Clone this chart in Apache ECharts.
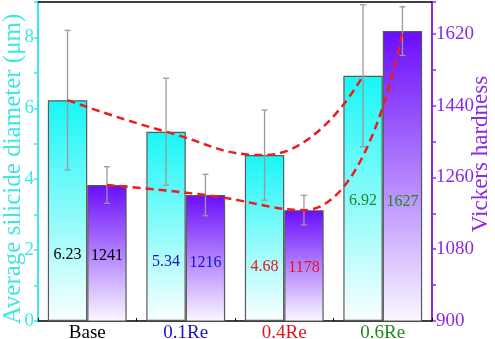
<!DOCTYPE html>
<html>
<head>
<meta charset="utf-8">
<script src="https://cdn.jsdelivr.net/npm/echarts@6/dist/echarts.min.js"></script>
<style>html,body{margin:0;padding:0;background:#fff}#c{width:495px;height:339px}</style>
</head>
<body>
<div id="c"></div>
<script>
// ---- data ----
const categories = ['Base', '0.1Re', '0.4Re', '0.6Re'];
const diameter = [6.23, 5.34, 4.68, 6.92];
const diameterErr = [1.97, 1.51, 1.27, 2.0];
const hardness = [1241, 1216, 1178, 1627];
const hardnessErr = [46, 52, 37, 61];
const leftTickLabels = [0, 2, 4, 6, 8];
const rightTickLabels = [900, 1080, 1260, 1440, 1620];

// ---- styles ----
const catColors = ['#000000', '#1414c8', '#e8141b', '#1f8a1f'];
const labelLift = [58, 51, 46, 112];
const FONT = 'Liberation Serif';
const CYAN = '#3fe6e6';
const PURPLE = '#8a2be2';
const catGap = 0.2;                 // barCategoryGap fraction
const barFrac = (1 - catGap) / 2;   // each bar's share of a category
const barOffset = barFrac / 2;      // bar centre offset from category centre

const chart = echarts.init(document.getElementById('c'), null, {renderer: 'canvas'});

function errItem(side) {
  return function (params, api) {
    const i = api.value(0), v = api.value(1), e = api.value(2);
    const band = api.size([1, 0])[0];
    const dx = side * band * barOffset;
    const t = api.coord([i, v + e]);
    const b = api.coord([i, v - e]);
    const x = t[0] + dx;
    const cap = 3;
    const st = {stroke: '#9a9a9a', lineWidth: 1.3};
    return {
      type: 'group',
      children: [
        {type: 'line', shape: {x1: x, y1: t[1], x2: x, y2: b[1]}, style: st},
        {type: 'line', shape: {x1: x - cap, y1: t[1], x2: x + cap, y2: t[1]}, style: st},
        {type: 'line', shape: {x1: x - cap, y1: b[1], x2: x + cap, y2: b[1]}, style: st}
      ]
    };
  };
}

const rich = {};
categories.forEach((c, i) => { rich['c' + i] = {color: catColors[i], fontFamily: FONT, fontSize: 19}; });

const option = {
  animation: false,
  grid: {left: 38, right: 63, top: 2, bottom: 18, containLabel: false, outerBoundsMode: 'none'},
  xAxis: [
    {
      type: 'category', data: categories, position: 'bottom',
      axisLine: {onZero: false, lineStyle: {color: '#000', width: 1.5}},
      axisTick: {show: true, inside: true, length: 3, lineStyle: {color: '#000'}},
      axisLabel: {
        margin: 3,
        formatter: (v, i) => '{c' + i + '|' + v + '}',
        rich: rich
      },
      splitLine: {show: false}
    },
    {
      type: 'value', position: 'top', min: -0.5, max: 3.5,
      axisLine: {show: true, onZero: false, lineStyle: {color: '#000', width: 1.5}},
      axisTick: {show: false}, axisLabel: {show: false}, splitLine: {show: false}
    }
  ],
  yAxis: [
    {
      type: 'value', position: 'left', min: 0, max: 9, interval: 1,
      name: 'Average silicide diameter (μm)', nameLocation: 'middle', nameGap: 12, nameRotate: 90,
      nameMoveOverlap: false,
      nameTextStyle: {color: CYAN, fontFamily: FONT, fontSize: 25, padding: [0, 15, 0, 0]},
      axisLine: {show: true, onZero: false, lineStyle: {color: CYAN, width: 2}},
      axisTick: {show: true, length: 4, lineStyle: {color: CYAN, width: 1.5}},
      axisLabel: {
        color: CYAN, fontFamily: FONT, fontSize: 19, margin: 4,
        formatter: v => leftTickLabels.indexOf(v) >= 0 ? String(v) : ''
      },
      splitLine: {show: false}
    },
    {
      type: 'value', position: 'right', min: 900, max: 1700, interval: 90,
      name: 'Vickers hardness', nameLocation: 'middle', nameGap: 37, nameRotate: 90,
      nameMoveOverlap: false,
      nameTextStyle: {color: PURPLE, fontFamily: FONT, fontSize: 23, padding: [0, 0, 0, 15]},
      axisLine: {show: true, onZero: false, lineStyle: {color: PURPLE, width: 2}},
      axisTick: {show: true, length: 4, lineStyle: {color: PURPLE, width: 1.5}},
      axisLabel: {
        color: PURPLE, fontFamily: FONT, fontSize: 19, margin: 4,
        formatter: v => rightTickLabels.indexOf(v) >= 0 ? String(v) : ''
      },
      splitLine: {show: false}
    }
  ],
  series: [
    {
      type: 'bar', name: 'diameter', xAxisIndex: 0, yAxisIndex: 0,
      barGap: '0%', barCategoryGap: (catGap * 100) + '%',
      data: diameter.map((v, i) => ({
        value: v,
        label: {distance: labelLift[i], color: catColors[i]}
      })),
      itemStyle: {
        color: new echarts.graphic.LinearGradient(0, 0, 0, 1, [
          {offset: 0, color: '#18f6f6'}, {offset: 1, color: '#fbffff'}
        ]),
        borderColor: '#5a5a5a', borderWidth: 1.2
      },
      label: {show: true, position: 'insideBottom', fontFamily: FONT, fontSize: 16,
        formatter: p => p.value.toFixed(2)},
      z: 2
    },
    {
      type: 'bar', name: 'hardness', xAxisIndex: 0, yAxisIndex: 1,
      barGap: '0%', barCategoryGap: (catGap * 100) + '%',
      data: hardness.map((v, i) => ({
        value: v,
        label: {distance: labelLift[i], color: catColors[i]}
      })),
      itemStyle: {
        color: new echarts.graphic.LinearGradient(0, 0, 0, 1, [
          {offset: 0, color: '#6a0cfa'}, {offset: 1, color: '#faf8ff'}
        ]),
        borderColor: '#5a5a5a', borderWidth: 1.2
      },
      label: {show: true, position: 'insideBottom', fontFamily: FONT, fontSize: 16,
        formatter: p => String(p.value)},
      z: 2
    },
    {
      type: 'custom', xAxisIndex: 0, yAxisIndex: 0,
      renderItem: errItem(-1),
      data: diameter.map((v, i) => [i, v, diameterErr[i]]),
      z: 3
    },
    {
      type: 'custom', xAxisIndex: 0, yAxisIndex: 1,
      renderItem: errItem(1),
      data: hardness.map((v, i) => [i, v, hardnessErr[i]]),
      z: 3
    },
    {
      type: 'line', xAxisIndex: 1, yAxisIndex: 0, smooth: 0.5, symbol: 'none',
      data: diameter.map((v, i) => [i - barOffset, v]),
      lineStyle: {color: '#ee1c1c', width: 2.5, type: [8, 5]},
      z: 4
    },
    {
      type: 'line', xAxisIndex: 1, yAxisIndex: 1, smooth: 0.5, symbol: 'none',
      data: hardness.map((v, i) => [i + barOffset, v]),
      lineStyle: {color: '#ee1c1c', width: 2.5, type: [8, 5]},
      z: 4
    }
  ]
};
chart.setOption(option);
</script>
</body>
</html>
